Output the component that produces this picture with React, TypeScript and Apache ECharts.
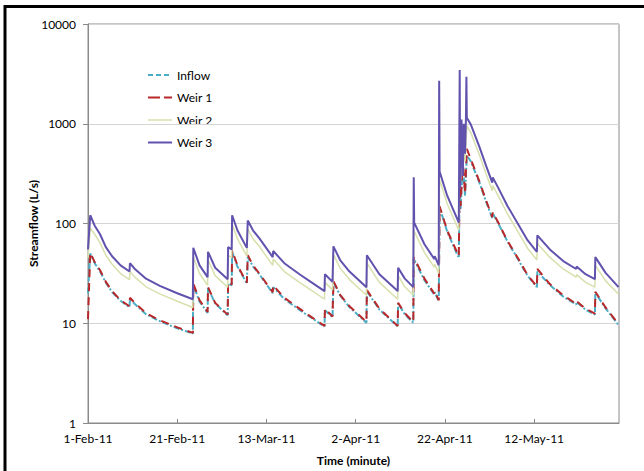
import { useEffect, useRef } from "react";
import * as echarts from "echarts";

// x values: days since 1-Feb-2011
const START_UTC = Date.UTC(2011, 1, 1);
const MONTHS = ["Jan", "Feb", "Mar", "Apr", "May", "Jun", "Jul", "Aug", "Sep", "Oct", "Nov", "Dec"];
const X_MIN = 0;
const X_MAX = 119;
const X_STEP = 20;
const Y_MIN = 1;
const Y_MAX = 10000;

const seriesNames = ["Inflow", "Weir 1", "Weir 2", "Weir 3"];

const inflow: [number, number][] = [
  [0.0, 20], [0.5, 50], [1.5, 40], [2.7, 33], [4.0, 25.5], [5.4, 20.5], [7.3, 16.8], [9.3, 14.5], [9.4, 17.5], [10.5, 15.6],
  [13.0, 12.3], [16.1, 10.5], [20.0, 8.9], [23.5, 7.9], [23.6, 24], [25.0, 16.5], [26.8, 12.7], [26.9, 22.5], [28.5, 15.8],
  [31.3, 12], [31.4, 25], [32.2, 24], [32.3, 52], [33.5, 37], [35.6, 25], [35.8, 46], [37.0, 37], [38.5, 30.5], [41.4, 20],
  [41.5, 23], [44.0, 17.5], [47.4, 13.6], [50.5, 11], [53.0, 9.3], [53.1, 13.5], [54.8, 11.5], [55.0, 26], [56.5, 19],
  [58.6, 14.5], [62.4, 10.1], [62.5, 21], [65.3, 13.7], [69.4, 9.3], [69.5, 15.8], [71.0, 12.3], [72.9, 10.1], [73.0, 44],
  [75.4, 27], [77.6, 19.4], [77.7, 20.5], [78.6, 16.7], [78.8, 145], [80.5, 83], [83.1, 45], [83.3, 280], [83.5, 140],
  [84.0, 400], [84.5, 190], [84.9, 480], [85.8, 420], [87.7, 258], [89.2, 166], [90.6, 113], [90.7, 127], [92.0, 99],
  [94.0, 66], [96.6, 42], [98.5, 30], [100.6, 23], [100.7, 33], [103.5, 24.2], [106.5, 18.5], [109.4, 15.4], [109.5, 16.3],
  [111.5, 13.7], [113.6, 12.2], [113.7, 20.2], [116.0, 14.1], [118.9, 9.6],
];

const weir1: [number, number][] = [
  [0.0, 11], [0.5, 51], [1.5, 41], [2.7, 34], [4.0, 26], [5.4, 21], [7.3, 17], [9.3, 14.8], [9.4, 18], [10.5, 16],
  [13.0, 12.6], [16.1, 10.7], [20.0, 9.1], [23.5, 8.0], [23.6, 25], [25.0, 17], [26.8, 13], [26.9, 23], [28.5, 16],
  [31.3, 12.2], [31.4, 26], [32.2, 24.5], [32.3, 54], [33.5, 38], [35.6, 25.5], [35.8, 48], [37.0, 38], [38.5, 31],
  [41.4, 20.5], [41.5, 24], [44.0, 18], [47.4, 14], [50.5, 11.2], [53.0, 9.4], [53.1, 14], [54.8, 11.7], [55.0, 26.5],
  [56.5, 19.3], [58.6, 14.8], [62.4, 10.3], [62.5, 21.5], [65.3, 14], [69.4, 9.4], [69.5, 16], [71.0, 12.6], [72.9, 10.3],
  [73.0, 46], [75.4, 28], [77.6, 19.8], [77.7, 21], [78.6, 17], [78.8, 149], [80.5, 85], [83.1, 47], [83.3, 320],
  [83.5, 150], [84.0, 430], [84.5, 200], [84.9, 560], [85.8, 440], [87.7, 265], [89.2, 171], [90.6, 116], [90.7, 130],
  [92.0, 101], [94.0, 67], [96.6, 43], [98.5, 30.5], [100.6, 23.4], [100.7, 35], [103.5, 24.7], [106.5, 19], [109.4, 15.7],
  [109.5, 16.6], [111.5, 14], [113.6, 12.5], [113.7, 20.7], [116.0, 14.4], [118.9, 9.8],
];

const weir2: [number, number][] = [
  [0.0, 45], [0.5, 90], [1.5, 78], [2.7, 64], [4.0, 48], [5.4, 39], [7.3, 31.5], [9.3, 27.4], [9.4, 33], [10.5, 29],
  [13.0, 23.2], [16.1, 19.7], [20.0, 16.6], [23.5, 14.4], [23.6, 46], [25.0, 31.5], [26.8, 24], [26.9, 43], [28.5, 30],
  [31.3, 23], [31.4, 48], [32.2, 45.5], [32.3, 98], [33.5, 70], [35.6, 47], [35.8, 88], [37.0, 70], [38.5, 58], [41.4, 38],
  [41.5, 44], [44.0, 33], [47.4, 25.7], [50.5, 20.8], [53.0, 17.4], [53.1, 25.7], [54.8, 21.6], [55.0, 49], [56.5, 35.7],
  [58.6, 27.4], [62.4, 19.1], [62.5, 40], [65.3, 25.7], [69.4, 17.4], [69.5, 30], [71.0, 23.2], [72.9, 19.1], [73.0, 85],
  [75.4, 51], [77.6, 36.5], [77.7, 39], [78.6, 31.5], [78.8, 275], [80.5, 158], [83.1, 85], [83.3, 700], [83.5, 260],
  [84.0, 820], [84.5, 420], [84.9, 950], [85.8, 810], [87.7, 490], [89.2, 315], [90.6, 213], [90.7, 240], [92.0, 187],
  [94.0, 125], [96.6, 79], [98.5, 56.5], [100.6, 43], [100.7, 63], [103.5, 45.7], [106.5, 35], [109.4, 29], [109.5, 30.7],
  [111.5, 25.7], [113.6, 23], [113.7, 38], [116.0, 26.6], [118.9, 19.5],
];

const weir3: [number, number][] = [
  [0.0, 55], [0.5, 121], [1.5, 95], [2.7, 78], [4.0, 58], [5.4, 47], [7.3, 38], [9.3, 33], [9.4, 40], [10.5, 35],
  [13.0, 28], [16.1, 23.7], [20.0, 20], [23.5, 17.4], [23.6, 57], [25.0, 38], [26.8, 29], [26.9, 52], [28.5, 36],
  [31.3, 27.6], [31.4, 58], [32.2, 55], [32.3, 121], [33.5, 85], [35.6, 57], [35.8, 107], [37.0, 85], [38.5, 70],
  [41.4, 46], [41.5, 53], [44.0, 40], [47.4, 31], [50.5, 25], [53.0, 21], [53.1, 31], [54.8, 26], [55.0, 59], [56.5, 43],
  [58.6, 33], [62.4, 23], [62.5, 48], [65.3, 31], [69.4, 21], [69.5, 36], [71.0, 28], [72.9, 23], [73.0, 290], [73.1, 102],
  [75.4, 62], [77.6, 44], [77.7, 47], [78.6, 38], [78.7, 2700], [78.8, 331], [80.5, 190], [83.1, 102], [83.3, 3450],
  [83.4, 230], [83.7, 1100], [84.0, 300], [84.2, 1000], [84.5, 500], [84.7, 1150], [84.8, 2950], [84.9, 1150], [85.8, 980],
  [87.7, 590], [89.2, 380], [90.6, 257], [90.7, 290], [92.0, 225], [94.0, 150], [96.6, 95], [98.5, 68], [100.6, 52],
  [100.7, 76], [103.5, 55], [106.5, 42], [109.4, 35], [109.5, 37], [111.5, 31], [113.6, 27.7], [113.7, 46], [116.0, 32],
  [118.9, 23],
];

const FONT = "Lato";

const styles: Record<string, { color: string; width: number; dash: number[] | null }> = {
  "Inflow": { color: "#4bacc6", width: 2, dash: [6, 2, 2, 2] },
  "Weir 1": { color: "#b8282a", width: 2, dash: [8, 6] },
  "Weir 2": { color: "#d8e0ad", width: 1.5, dash: null },
  "Weir 3": { color: "#6152ae", width: 2, dash: null },
};

function dayLabel(d: number): string {
  if (Math.abs(d % X_STEP) > 1e-6) return "";
  const dt = new Date(START_UTC + d * 86400000);
  const yy = String(dt.getUTCFullYear() % 100).padStart(2, "0");
  return `${dt.getUTCDate()}-${MONTHS[dt.getUTCMonth()]}-${yy}`;
}

export default function App() {
  const ref = useRef<HTMLDivElement>(null);
  useEffect(() => {
    if (!ref.current) return;
    const chart = echarts.init(ref.current, null, { renderer: "svg" });
    const line = (name: string, data: [number, number][], z: number) => {
      const s = styles[name];
      return {
        name,
        type: "line",
        data,
        showSymbol: false,
        symbol: "none",
        z,
        lineStyle: { color: s.color, width: s.width, type: s.dash ? s.dash : "solid" },
        itemStyle: { color: s.color },
      };
    };
    const legendGraphics: any[] = [];
    seriesNames.forEach((name, i) => {
      const s = styles[name];
      const y = 75 + i * 22.5;
      legendGraphics.push({
        type: "line",
        silent: true,
        shape: { x1: 148, y1: y, x2: 172, y2: y },
        style: { stroke: s.color, lineWidth: s.width, lineDash: s.dash ? (name === "Inflow" ? [5, 3] : [12, 4]) : null },
      });
      legendGraphics.push({
        type: "text",
        silent: true,
        x: 177,
        y,
        style: { text: name, fontFamily: FONT, fontSize: 12, fill: "#000", verticalAlign: "middle", textVerticalAlign: "middle" },
      });
    });
    chart.setOption({
      animation: false,
      backgroundColor: "#ffffff",
      textStyle: { fontFamily: FONT },
      grid: { left: 88, top: 24, right: 25, bottom: 47, show: true, borderColor: "#8a8a8a", borderWidth: 1, backgroundColor: "transparent" },
      xAxis: {
        type: "value",
        min: X_MIN,
        max: X_MAX,
        interval: X_STEP,
        axisLine: { show: true, lineStyle: { color: "#8a8a8a" } },
        axisTick: { show: true, inside: true, length: 4, lineStyle: { color: "#8a8a8a" } },
        splitLine: { show: false },
        axisLabel: { formatter: (v: number) => dayLabel(v), fontFamily: FONT, fontSize: 12, color: "#000", margin: 9, showMaxLabel: false },
        name: "Time (minute)",
        nameLocation: "middle",
        nameGap: 31,
        nameMoveOverlap: false,
        nameTextStyle: { fontFamily: FONT, fontSize: 12, fontWeight: "bold", color: "#000" },
      },
      yAxis: {
        type: "log",
        logBase: 10,
        min: Y_MIN,
        max: Y_MAX,
        axisLine: { show: true, lineStyle: { color: "#8a8a8a" } },
        axisTick: { show: true, inside: false, length: 5, lineStyle: { color: "#8a8a8a" } },
        splitLine: { show: true, lineStyle: { color: "#d4d4d4", width: 1 } },
        axisLabel: { formatter: (v: number) => String(Math.round(v)), fontFamily: FONT, fontSize: 12, color: "#000", margin: 12 },
        name: "Streamflow (L/s)",
        nameLocation: "middle",
        nameRotate: 90,
        nameGap: 49,
        nameMoveOverlap: false,
        nameTextStyle: { fontFamily: FONT, fontSize: 12, fontWeight: "bold", color: "#000" },
      },
      graphic: [
        {
          type: "rect",
          silent: true,
          shape: { x: 5, y: 6.5, width: 800, height: 600 },
          style: { fill: "none", stroke: "#000", lineWidth: 3 },
          z: 100,
        },
        ...legendGraphics,
      ],
      series: [
        line("Inflow", inflow, 2),
        line("Weir 1", weir1, 3),
        line("Weir 2", weir2, 4),
        line("Weir 3", weir3, 5),
      ],
    });
    return () => chart.dispose();
  }, []);
  return <div ref={ref} style={{ position: "fixed", left: 0, top: 0, width: 644, height: 471 }} />;
}
